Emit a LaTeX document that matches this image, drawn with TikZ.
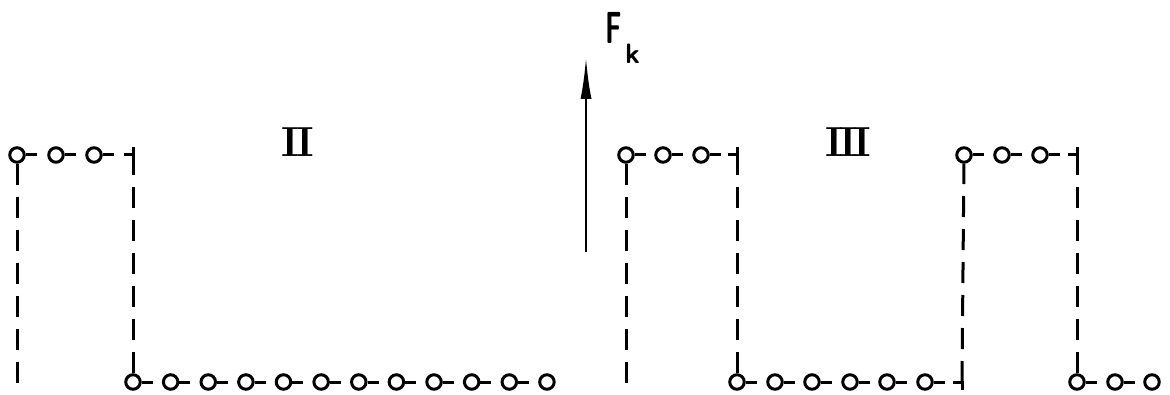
\documentclass[tikz,border=0pt]{standalone}
\usepackage{fontspec}
\usetikzlibrary{arrows.meta}
\begin{document}
\begin{tikzpicture}[x=1pt,y=-1pt,
  site/.style={circle,draw,fill=white,line width=3pt,minimum size=14.5pt,inner sep=0pt},
  link/.style={line width=3pt,dash pattern=on 11pt off 60pt},
  vline/.style={line width=3pt,dash pattern=on 21pt off 12pt},
  hook/.style={line width=3pt},
  roman/.style={inner sep=0pt}]
\useasboundingbox (0,0) rectangle (1170,395);
% block I (left)
\node[site] (a1) at (17,155) {};
\node[site] (a2) at (56,155) {};
\node[site] (a3) at (94,155) {};
\coordinate (c1) at (133,155);
\coordinate (l0) at (17,388);
\foreach \i in {1,...,12}{
  \node[site] (b\i) at ({133+37.63*(\i-1)},382) {};
}
\draw[link] (a1) -- (a2);
\draw[link] (a2) -- (a3);
\draw[link] (a3) -- (c1);
\draw[hook] ([xshift=-9pt]c1) -- (c1) -- ([yshift=8pt]c1);
\draw[vline] (a1) -- (l0);
\draw[vline] (b1) -- (c1);
\foreach \i [evaluate=\i as \j using int(\i+1)] in {1,...,11}{
  \draw[link] (b\i) -- (b\j);
}
% arrow and label
\coordinate (t0) at (586,252);
\coordinate (t1) at (586,57);
\draw[line width=2.6pt,-{Latex[length=42pt,width=11pt]}] (t0) -- (t1);
\node[inner sep=0pt,anchor=south west] (fk) at (605,44) {\fontsize{30}{30}\selectfont\sffamily\bfseries\scalebox{0.9}[1.5]{F}};
\node[inner sep=0pt,anchor=south west] (kk) at (625,64) {\fontsize{28}{28}\selectfont\sffamily\bfseries k};
% roman numerals
\node[roman] (r2) at (298,142) {\fontsize{42}{42}\selectfont\bfseries I\kern-3pt I};
\node[roman] (r3) at (848,142) {\fontsize{42}{42}\selectfont\bfseries I\kern-3.5pt I\kern-3.5pt I};
% block II / III (right)
\coordinate (d0) at (626,388);
\node[site] (e1) at (626,155) {};
\node[site] (e2) at (663,155) {};
\node[site] (e3) at (701,155) {};
\coordinate (c2) at (737,155);
\node[site] (f1) at (737,382) {};
\node[site] (f2) at (775,382) {};
\node[site] (f3) at (812,382) {};
\node[site] (f4) at (850,382) {};
\node[site] (f5) at (887,382) {};
\node[site] (f6) at (925,382) {};
\coordinate (c3) at (962,382);
\node[site] (g1) at (964,155) {};
\node[site] (g2) at (1002,155) {};
\node[site] (g3) at (1040,155) {};
\coordinate (c4) at (1077,155);
\node[site] (h1) at (1077,382) {};
\node[site] (h2) at (1115,382) {};
\node[site] (h3) at (1152,382) {};
\draw[link] (e1) -- (e2);
\draw[link] (e2) -- (e3);
\draw[link] (e3) -- (c2);
\draw[hook] ([xshift=-9pt]c2) -- (c2) -- ([yshift=8pt]c2);
\draw[vline] (e1) -- (d0);
\draw[vline] (f1) -- (c2);
\draw[link] (f1) -- (f2);
\draw[link] (f2) -- (f3);
\draw[link] (f3) -- (f4);
\draw[link] (f4) -- (f5);
\draw[link] (f5) -- (f6);
\draw[link] (f6) -- (c3);
\draw[hook] ([xshift=-9pt]c3) -- (c3) -- ([yshift=-8pt]c3);
\draw[vline] (c3) -- (g1);
\draw[link] (g1) -- (g2);
\draw[link] (g2) -- (g3);
\draw[link] (g3) -- (c4);
\draw[hook] ([xshift=-9pt]c4) -- (c4) -- ([yshift=8pt]c4);
\draw[vline] (h1) -- (c4);
\draw[link] (h1) -- (h2);
\draw[link] (h2) -- (h3);
\end{tikzpicture}
\end{document}
